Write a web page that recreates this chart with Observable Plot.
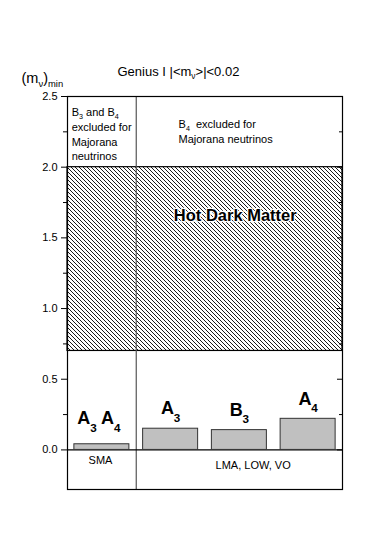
<!DOCTYPE html>
<html><head><meta charset="utf-8">
<script src="https://cdn.jsdelivr.net/npm/d3@7"></script>
<script src="https://cdn.jsdelivr.net/npm/@observablehq/plot@0.6"></script>
<style>
html,body{margin:0;padding:0;background:#fff;}
svg{display:block;font-family:"Liberation Sans",Arial,sans-serif;}
</style>
</head><body><div id="chart"></div>
<script>
// ---- data ----
const barLabels = ["A_3 A_4", "A_3", "B_3", "A_4"];
const barValues = [0.04, 0.15, 0.14, 0.22];
const regions = ["SMA", "LMA, LOW, VO"];
const hdmRange = [0.7, 2.0];
const hdmLabel = "Hot Dark Matter";
const noteLeft = "B_3 and B_4\nexcluded for\nMajorana\nneutrinos";
const noteRight = "B_4  excluded for\nMajorana neutrinos";
const titleText = "Genius I |<m_ν>|<0.02";
const yLabelText = "(m_ν)_{min}";
const majorTicks = [0, 0.5, 1.0, 1.5, 2.0, 2.5];
const minorTicks = [0.25, 0.75, 1.25, 1.75, 2.25];
const panelDivider = [1];

const barData = barValues.map((v, i) => ({i, value: v, label: barLabels[i]}));

const svg = Plot.plot({
  width: 382, height: 549,
  marginLeft: 67, marginRight: 40, marginTop: 96, marginBottom: 60,
  x: {domain: [0, 4], axis: null},
  y: {domain: [-0.28, 2.5]},
  style: {background: "#fff", color: "#000"},
  marks: [
    Plot.rect([hdmRange], {x1: 0, x2: 4, y1: d => d[0], y2: d => d[1], fill: "url(#hatch)", stroke: "#000", strokeWidth: 1.2}),
    Plot.ruleX(panelDivider, {stroke: "#555", strokeWidth: 1.2}),
    Plot.ruleY([0], {stroke: "#000", strokeWidth: 1.2}),
    Plot.rect(barData, {x1: d => d.i + 0.1, x2: d => d.i + 0.9, y1: 0, y2: "value", fill: "#c0c0c0", stroke: "#333", strokeWidth: 1}),
    Plot.text(barData.filter(d => d.i > 0), {x: d => d.i + 0.5, y: "value", text: "label", fontSize: 18, fontWeight: "bold", dy: -20}),
    Plot.text(barData.filter(d => d.i === 0), {x: d => d.i + 0.5, y: "value", text: "label", fontSize: 18, fontWeight: "bold", dy: -26, dx: -3}),
    Plot.text([regions[0]], {x: 0.48, y: -0.073, fontSize: 11}),
    Plot.text([regions[1]], {x: 2.7, y: -0.112, fontSize: 11}),
    Plot.text([noteLeft], {x: 0.06, y: 2.435, textAnchor: "start", lineAnchor: "top", lineHeight: 1.34, fontSize: 11}),
    Plot.text([noteRight], {x: 1.615, y: 2.355, textAnchor: "start", lineAnchor: "top", lineHeight: 1.36, fontSize: 11}),
    Plot.text([hdmLabel], {x: 2.44, y: 1.66, fontSize: 16.5, fontWeight: "bold", fill: "#000", stroke: "#fff", strokeWidth: 2.5, paintOrder: "stroke"}),
    Plot.axisY(majorTicks, {anchor: "left", tickSize: 6, tickPadding: 4, tickFormat: d3.format(".1f"), fontSize: 11, label: null}),
    Plot.axisY(minorTicks, {anchor: "left", tickSize: 4, tickFormat: () => "", label: null}),
    Plot.axisY(majorTicks, {anchor: "right", tickSize: 6, insetRight: 6, tickFormat: () => "", label: null}),
    Plot.axisY(minorTicks, {anchor: "right", tickSize: 4, insetRight: 4, tickFormat: () => "", label: null}),
    Plot.frame({stroke: "#000", strokeWidth: 1.2}),
    Plot.text([titleText], {frameAnchor: "top-left", textAnchor: "start", dx: 50, dy: -30, fontSize: 13}),
    Plot.text([yLabelText], {frameAnchor: "top-left", textAnchor: "start", dx: -46, dy: -24, fontSize: 14.5})
  ]
});

// hatch pattern
const defs = d3.select(svg).insert("defs", ":first-child");
const pat = defs.append("pattern").attr("id", "hatch").attr("patternUnits", "userSpaceOnUse")
  .attr("width", 4).attr("height", 4);
pat.append("rect").attr("width", 4).attr("height", 4).attr("fill", "#fff");
pat.append("path").attr("d", "M0,0L4,4M-1,3L1,5M3,-1L5,1").attr("stroke", "#000").attr("stroke-width", 0.9);

document.getElementById("chart").appendChild(svg);

// drop empty tick labels (minor / right-side ticks carry no text)
d3.select(svg).selectAll("text").filter(function () { return this.textContent.trim() === ""; }).remove();

// subscripts: "_x" or "_{xyz}"
d3.select(svg).selectAll("text, tspan").each(function () {
  if (this.children.length) return;
  const s = this.textContent;
  if (!s.includes("_")) return;
  const fs = parseFloat(getComputedStyle(this).fontSize) || 11;
  const shift = fs >= 16 ? 0.42 * fs : 0.28 * fs;
  const parts = s.split(/(_\{[^}]*\}|_.)/);
  this.textContent = "";
  let down = false;
  for (const p of parts) {
    if (!p) continue;
    const t = d3.select(this).append("tspan");
    if (p.startsWith("_")) {
      const txt = p.startsWith("_{") ? p.slice(2, -1) : p.slice(1);
      t.text(txt).attr("font-size", (0.65 * fs) + "px");
      if (!down) t.attr("dy", shift);
      down = true;
    } else {
      t.text(p);
      if (down) { t.attr("dy", -shift); down = false; }
    }
  }
  if (down) {
    const next = this.nextElementSibling;
    if (next && next.tagName.toLowerCase() === "tspan") {
      const dy = next.getAttribute("dy") || "0";
      const px = dy.endsWith("em") ? parseFloat(dy) * fs : parseFloat(dy);
      next.setAttribute("dy", px - shift);
    }
  }
});
</script>
</body></html>
